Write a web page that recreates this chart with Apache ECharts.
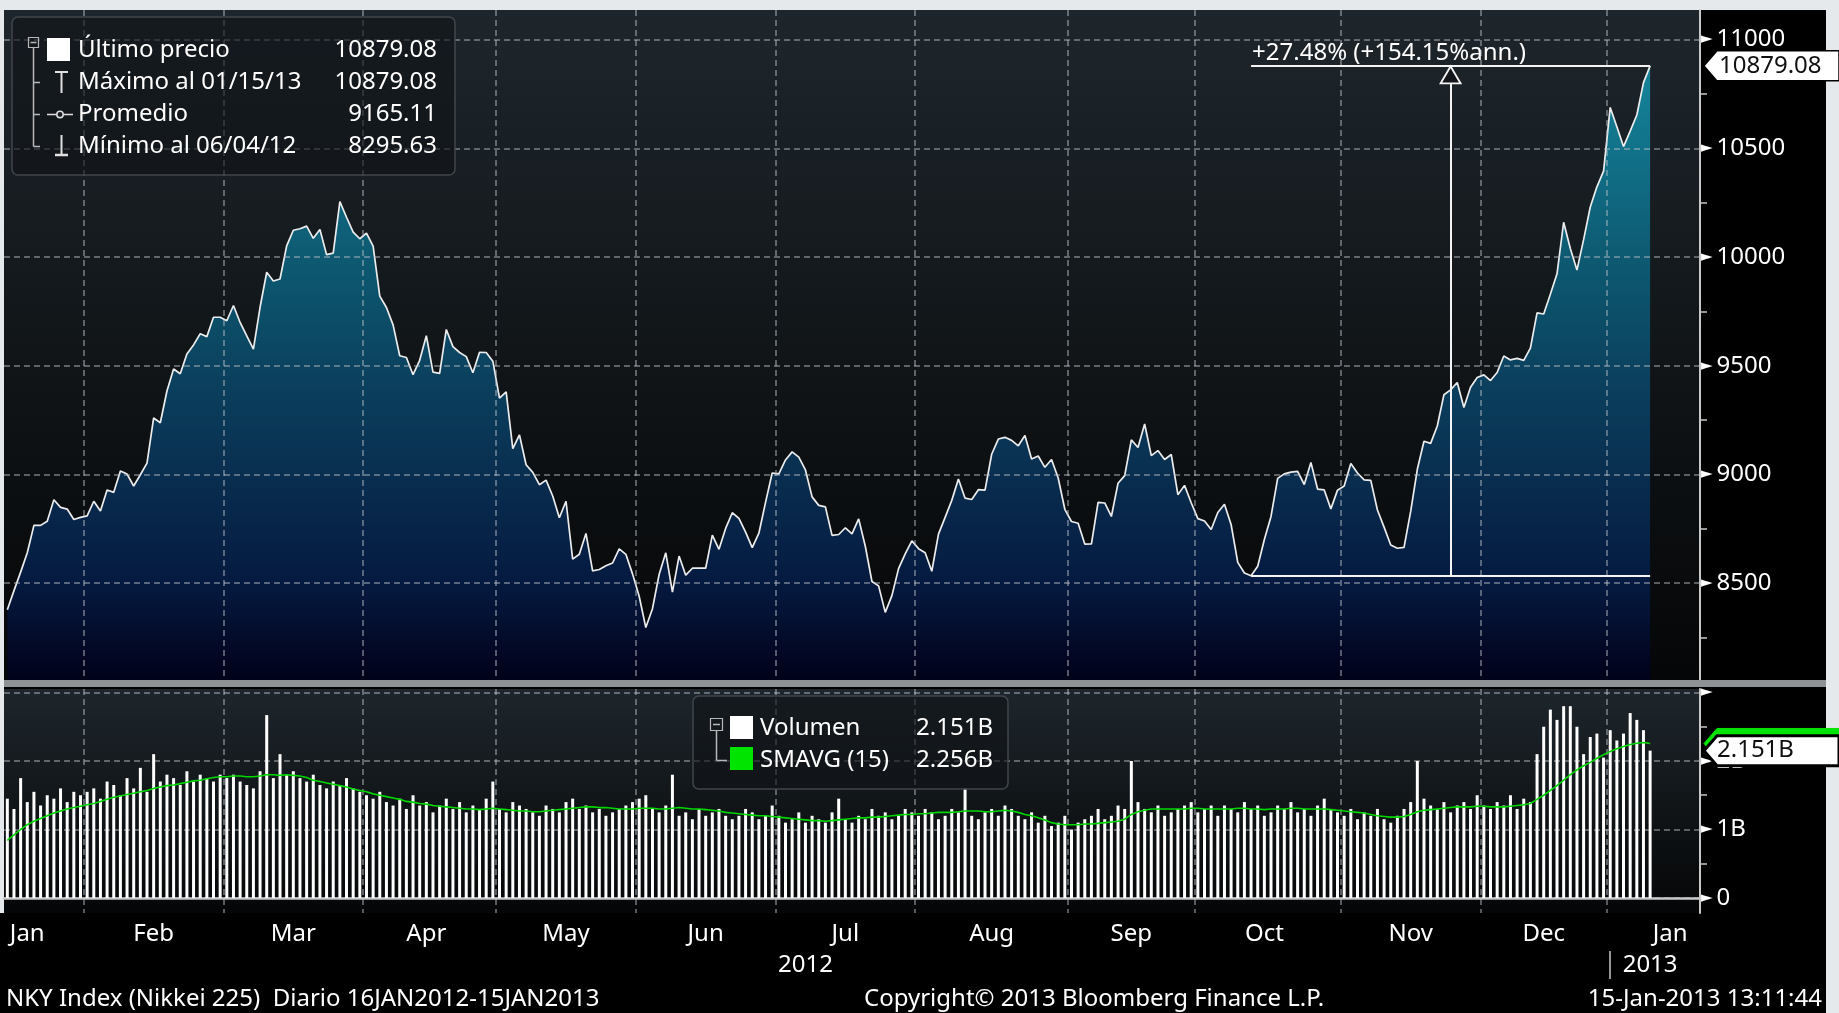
<!DOCTYPE html>
<html><head><meta charset="utf-8">
<script src="https://cdn.jsdelivr.net/npm/echarts@6/dist/echarts.min.js"></script>
<style>html,body{margin:0;padding:0;background:#000;overflow:hidden}#c{width:1839px;height:1013px}</style>
</head><body><div id="c"></div>
<script>
// ---------- DATA ----------
const startDate = '2012-01-16';
const endDate = '2013-01-24'; // axis runs 7 sessions past the last close
const holidays = ['2012-03-20','2012-04-30','2012-05-03','2012-05-04','2012-07-16','2012-09-17','2012-10-08',
  '2012-11-23','2012-12-24','2012-12-31','2013-01-01','2013-01-02','2013-01-03','2013-01-14'];
const monthNames = ['Jan','Feb','Mar','Apr','May','Jun','Jul','Aug','Sep','Oct','Nov','Dec'];

// Nikkei 225 daily close (trading-day order)
const closes = [
 8378,8466,8551,8640,8766,8766,8785,8884,8849,8841,8793,8803,
 8810,8877,8832,8929,8918,9016,9002,8947,8999,9052,9260,9238,9384,9485,9463,9554,9596,9647,9634,9723,9723,
 9707,9777,9699,9638,9576,9769,9930,9890,9899,10051,10123,10130,10142,10086,10127,10011,10018,10255,10183,10115,10084,
 10110,10050,9820,9768,9688,9546,9538,9459,9525,9638,9471,9465,9667,9588,9561,9542,9468,9562,9561,9521,
 9351,9380,9119,9182,9045,9010,8953,8974,8901,8801,8877,8611,8633,8729,8557,8563,8580,8593,8658,8633,8543,
 8440,8296,8383,8540,8640,8459,8625,8537,8569,8569,8569,8721,8656,8752,8824,8798,8735,8664,8730,8872,9007,
 9003,9067,9104,9080,9021,8897,8858,8851,8720,8724,8755,8727,8796,8670,8508,8488,8366,8443,8567,8635,8695,
 8659,8640,8555,8726,8803,8881,8979,8891,8885,8930,8928,9093,9163,9171,9157,9132,9179,9071,9085,9033,9069,8984,8840,
 8784,8776,8680,8681,8872,8869,8807,8960,8995,9159,9124,9232,9087,9110,9069,9092,8907,8950,8870,
 8797,8786,8747,8825,8863,8770,8596,8547,8534.12,8578,8701,8807,8982,9003,9011,9014,8954,9055,8933,8929,8842,8928,
 8947,9051,9007,8975,8973,8837,8758,8676,8661,8665,8830,9024,9153,9143,9223,9367,9389,9423,9308,9401,9446,
 9458,9432,9469,9545,9527,9534,9525,9581,9743,9738,9829,9923,10160,10039,9940,10080,10230,10323,10395,
 10688,10599,10508,10579,10653,10802,10879.08
];
// Volume, billions of shares
const volumesB = [
 1.45,1.3,1.75,1.4,1.55,1.35,1.5,1.45,1.6,1.4,1.55,1.5,
 1.55,1.6,1.45,1.7,1.65,1.5,1.75,1.6,1.9,1.55,2.1,1.7,1.8,1.75,1.65,1.85,1.7,1.8,1.75,1.7,1.8,
 1.75,1.8,1.7,1.65,1.6,1.85,2.67,1.75,2.1,1.8,1.85,1.75,1.7,1.8,1.65,1.6,1.7,1.65,1.75,1.6,1.55,
 1.5,1.45,1.55,1.4,1.35,1.45,1.3,1.5,1.35,1.4,1.25,1.35,1.45,1.3,1.4,1.25,1.35,1.3,1.45,1.7,
 1.3,1.25,1.4,1.35,1.3,1.25,1.2,1.35,1.3,1.25,1.4,1.45,1.3,1.35,1.25,1.3,1.2,1.25,1.3,1.35,1.4,
 1.45,1.5,1.3,1.25,1.35,1.8,1.2,1.25,1.15,1.3,1.2,1.25,1.3,1.2,1.15,1.2,1.3,1.25,1.15,1.2,1.35,
 1.2,1.1,1.15,1.25,1.1,1.2,1.15,1.1,1.25,1.45,1.15,1.1,1.2,1.15,1.3,1.2,1.25,1.15,1.2,1.3,1.25,
 1.2,1.3,1.25,1.15,1.2,1.3,1.25,1.6,1.2,1.15,1.25,1.3,1.2,1.35,1.3,1.2,1.15,1.25,1.1,1.2,1.05,1.1,1.2,
 1.0,1.1,1.15,1.2,1.3,1.15,1.2,1.35,1.3,2.0,1.4,1.3,1.25,1.35,1.2,1.25,1.3,1.35,1.4,
 1.25,1.3,1.35,1.2,1.35,1.3,1.25,1.4,1.3,1.35,1.2,1.25,1.35,1.3,1.4,1.25,1.3,1.2,1.35,1.45,1.3,1.25,
 1.2,1.3,1.15,1.25,1.2,1.3,1.15,1.1,1.2,1.3,1.4,2.0,1.45,1.35,1.3,1.4,1.25,1.35,1.4,1.3,1.5,
 1.35,1.3,1.4,1.35,1.5,1.3,1.45,1.4,2.1,2.5,2.75,2.6,2.8,2.8,2.5,2.1,2.35,2.4,2.05,
 2.45,2.3,2.4,2.7,2.6,2.45,2.151
];
// SMAVG(15) of volume, billions (as drawn)
const smavgB = [
 0.84,0.92,1.0,1.07,1.12,1.16,1.2,1.24,1.27,1.3,1.32,1.34,
 1.36,1.38,1.41,1.44,1.47,1.49,1.51,1.53,1.55,1.57,1.6,1.62,1.64,1.65,1.67,1.69,1.71,1.72,1.74,1.76,1.77,
 1.77,1.78,1.78,1.77,1.77,1.78,1.8,1.8,1.79,1.8,1.79,1.78,1.76,1.72,1.7,1.68,1.66,1.64,1.62,1.59,1.57,
 1.55,1.52,1.5,1.48,1.46,1.44,1.41,1.4,1.38,1.37,1.35,1.34,1.33,1.32,1.31,1.3,1.3,1.29,1.3,1.31,
 1.3,1.29,1.28,1.27,1.27,1.26,1.26,1.27,1.28,1.29,1.3,1.31,1.32,1.33,1.33,1.32,1.32,1.31,1.3,1.3,1.3,
 1.31,1.31,1.31,1.3,1.3,1.31,1.32,1.31,1.3,1.3,1.29,1.28,1.27,1.25,1.24,1.23,1.22,1.21,1.2,1.2,1.19,
 1.18,1.17,1.16,1.15,1.14,1.13,1.13,1.12,1.13,1.14,1.15,1.16,1.17,1.17,1.18,1.18,1.19,1.2,1.21,1.22,1.22,
 1.23,1.23,1.24,1.25,1.25,1.25,1.26,1.27,1.27,1.27,1.26,1.26,1.27,1.28,1.27,1.25,1.22,1.2,1.17,1.14,1.1,1.08,1.07,
 1.07,1.07,1.08,1.08,1.09,1.1,1.11,1.12,1.15,1.22,1.26,1.28,1.3,1.3,1.3,1.3,1.3,1.3,1.31,
 1.31,1.3,1.3,1.3,1.3,1.3,1.31,1.31,1.3,1.3,1.29,1.3,1.3,1.3,1.31,1.31,1.3,1.3,1.3,1.3,1.29,1.28,
 1.27,1.26,1.25,1.24,1.22,1.2,1.19,1.18,1.18,1.19,1.22,1.26,1.28,1.29,1.3,1.31,1.32,1.33,1.33,1.33,1.34,
 1.34,1.33,1.33,1.33,1.34,1.35,1.36,1.38,1.44,1.5,1.57,1.64,1.72,1.8,1.87,1.93,1.98,2.04,2.09,
 2.14,2.18,2.21,2.24,2.26,2.27,2.256
];
const lastPriceText = '10879.08';
const lastVolText = '2.151B';
const legendRows = [
  ['Último precio', '10879.08'],
  ['Máximo al 01/15/13', '10879.08'],
  ['Promedio', '9165.11'],
  ['Mínimo al 06/04/12', '8295.63']
];
const volLegendRows = [['Volumen', '2.151B'], ['SMAVG (15)', '2.256B']];
const lowIdx = 187, highIdx = 247, arrowIdx = 217;
const changeText = '+27.48% (+154.15%ann.)';
const footerLeft = 'NKY Index (Nikkei 225)  Diario 16JAN2012-15JAN2013';
const footerMid = 'Copyright\u00A9 2013 Bloomberg Finance L.P.';
const footerRight = '15-Jan-2013 13:11:44';

// ---------- CATEGORIES ----------
function buildDates() {
  const out = []; let t = Date.parse(startDate + 'T00:00:00Z'); const end = Date.parse(endDate + 'T00:00:00Z');
  while (t <= end) {
    const d = new Date(t); const dow = d.getUTCDay(); const s = d.toISOString().slice(0, 10);
    if (dow !== 0 && dow !== 6 && holidays.indexOf(s) < 0) out.push(s);
    t += 86400000;
  }
  return out;
}
const dates = buildDates();
const groups = [];
dates.forEach((d, i) => {
  const k = d.slice(0, 7);
  if (!groups.length || groups[groups.length - 1].key !== k) groups.push({ key: k, first: i, last: i });
  else groups[groups.length - 1].last = i;
});
const monthStart = new Set(groups.slice(1).map(g => g.first));
const monthLabelIdx = new Set(groups.map((g, gi) =>
  gi === 0 ? g.first + 3 : (gi === groups.length - 1 ? g.first + 9 : Math.floor((g.first + g.last) / 2))));
const yearFirst = dates.findIndex(d => d.slice(0, 4) === '2013');
const yearLabelIdx = new Set([Math.floor((yearFirst - 1) / 2), yearFirst + 6]);

// ---------- LAYOUT ----------
const FONT = '"Noto Sans", "DejaVu Sans", sans-serif';
const G0 = { left: 4, top: 10, width: 1696, height: 670 };
const G1 = { left: 4, top: 689, width: 1696, height: 224 };
const axisRight = G0.left + G0.width;
const dash = { color: 'rgba(190,197,204,0.6)', width: 1.5, type: [6, 4] };

const chart = echarts.init(document.getElementById('c'), null, { renderer: 'canvas' });

function bgRect(g, id) {
  return { type: 'rect', id, z: -10, shape: { x: g.left, y: g.top, width: g.width, height: g.height },
    style: { fill: new echarts.graphic.LinearGradient(0, 0, 0, 1, [
      { offset: 0, color: '#1e262c' }, { offset: 0.55, color: '#101417' }, { offset: 1, color: '#050607' }]) } };
}
function txt(id, x, y, s, align, fill, z) {
  return { type: 'text', id, x, y, z: z || 60,
    style: { text: s, fill: fill || '#ffffff', font: '24px ' + FONT, align: align || 'left', verticalAlign: 'middle' } };
}
const ln = (id, x1, y1, x2, y2, color, w) => ({ type: 'line', id, z: 60, shape: { x1, y1, x2, y2 },
  style: { stroke: color || '#b8b8b8', lineWidth: w || 1.5 } });

const rowsY = [50, 82, 114, 146];
const staticGraphics = [
  { type: 'rect', id: 'topStrip', z: -9, shape: { x: 0, y: 0, width: 1839, height: 10 }, style: { fill: '#e6e9ec' } },
  { type: 'rect', id: 'leftStrip', z: -9, shape: { x: 0, y: 0, width: 4, height: 913 }, style: { fill: '#e6e9ec' } },
  { type: 'rect', id: 'rightStrip', z: -9, shape: { x: 1826, y: 0, width: 13, height: 1013 }, style: { fill: '#e6e9ec' } },
  bgRect(G0, 'bg0'), bgRect(G1, 'bg1'),
  { type: 'rect', id: 'sep', z: 40, shape: { x: 4, y: 680, width: 1822, height: 7 }, style: { fill: '#8f9294' } },
  // price legend
  { type: 'rect', id: 'lgBox', z: 55, shape: { x: 12, y: 17, width: 443, height: 158, r: 6 },
    style: { fill: 'rgba(16,20,24,0.62)', stroke: '#40464c', lineWidth: 1.5 } },
  { type: 'rect', id: 'lgTree', z: 60, shape: { x: 28.5, y: 37.5, width: 10, height: 10 }, style: { fill: 'none', stroke: '#b8b8b8', lineWidth: 1.2 } },
  ln('lgTreeM', 30.5, 42.5, 36.5, 42.5), ln('lgTreeV', 33.5, 47.5, 33.5, 146.5),
  ln('lgB2', 33.5, 82.5, 40, 82.5), ln('lgB3', 33.5, 114.5, 40, 114.5), ln('lgB4', 33.5, 146.5, 40, 146.5),
  { type: 'rect', id: 'lgSq', z: 60, shape: { x: 47, y: 38, width: 23, height: 23 }, style: { fill: '#ffffff' } },
  ln('lgT1', 55, 72, 68, 72, '#e0e0e0', 2), ln('lgT2', 61.5, 72, 61.5, 93, '#e0e0e0', 2),
  ln('lgP1', 47, 114.5, 73, 114.5, '#e0e0e0', 1.5),
  { type: 'circle', id: 'lgPc', z: 61, shape: { cx: 60, cy: 114.5, r: 3.2 }, style: { fill: '#1a1e22', stroke: '#e0e0e0', lineWidth: 1.5 } },
  ln('lgM1', 61.5, 135, 61.5, 155, '#e0e0e0', 2), ln('lgM2', 55, 155, 68, 155, '#e0e0e0', 2.5),
  // volume legend
  { type: 'rect', id: 'vlBox', z: 55, shape: { x: 693, y: 696, width: 315, height: 93, r: 6 },
    style: { fill: 'rgba(16,20,24,0.62)', stroke: '#40464c', lineWidth: 1.5 } },
  { type: 'rect', id: 'vlTree', z: 60, shape: { x: 710.5, y: 718.5, width: 12, height: 12 }, style: { fill: 'none', stroke: '#b8b8b8', lineWidth: 1.2 } },
  ln('vlTreeM', 713, 724.5, 720, 724.5), ln('vlTreeV', 716.5, 730.5, 716.5, 760.5), ln('vlB2', 716.5, 760.5, 727, 760.5),
  { type: 'rect', id: 'vlSq1', z: 60, shape: { x: 730, y: 716, width: 23, height: 23 }, style: { fill: '#ffffff' } },
  { type: 'rect', id: 'vlSq2', z: 60, shape: { x: 730, y: 747, width: 23, height: 23 }, style: { fill: '#00e400' } },
  // footer
  txt('f1', 6, 999, footerLeft), txt('f2', 864, 999, footerMid), txt('f3', 1822, 999, footerRight, 'right')
];
legendRows.forEach((r, i) => {
  staticGraphics.push(txt('lgL' + i, 78, rowsY[i], r[0]), txt('lgV' + i, 437, rowsY[i], r[1], 'right'));
});
volLegendRows.forEach((r, i) => {
  const y = [728, 760][i];
  staticGraphics.push(txt('vlL' + i, 760, y, r[0]), txt('vlV' + i, 993, y, r[1], 'right'));
});

const yLabelRich = { t: { fontFamily: 'DejaVu Sans', fontSize: 15, color: '#ffffff', padding: [0, 4, 0, 0] },
  v: { fontFamily: FONT, fontSize: 24, color: '#ffffff' } };

const option = {
  backgroundColor: '#000000',
  animation: false,
  textStyle: { fontFamily: FONT },
  grid: [Object.assign({ containLabel: false }, G0), Object.assign({ containLabel: false }, G1)],
  xAxis: [
    { type: 'category', gridIndex: 0, data: dates, boundaryGap: true, z: 6,
      axisLine: { show: false }, axisTick: { show: false }, axisLabel: { show: false },
      splitLine: { show: true, interval: (i) => monthStart.has(i), lineStyle: dash } },
    { type: 'category', gridIndex: 1, data: dates, boundaryGap: true, position: 'bottom',
      axisLine: { show: true, lineStyle: { color: '#c8c8c8', width: 2.5 } }, axisTick: { show: false },
      axisLabel: { show: true, interval: (i) => monthLabelIdx.has(i), color: '#ffffff', fontSize: 24, margin: 9,
        fontFamily: FONT, formatter: (v) => monthNames[+v.slice(5, 7) - 1] },
      splitLine: { show: true, interval: (i) => monthStart.has(i), lineStyle: dash } },
    { type: 'category', gridIndex: 1, data: dates, boundaryGap: true, position: 'bottom', offset: 38,
      axisLine: { show: false },
      axisTick: { show: true, alignWithLabel: true, interval: (i) => i === yearFirst, length: 28, lineStyle: { color: '#c8c8c8', width: 1.5 } },
      axisLabel: { show: true, interval: (i) => yearLabelIdx.has(i), color: '#ffffff', fontSize: 24, margin: 2,
        fontFamily: FONT, formatter: (v) => v.slice(0, 4) },
      splitLine: { show: false } }
  ],
  yAxis: [
    { type: 'value', gridIndex: 0, position: 'right', min: 8055, max: 11136, minInterval: 500, maxInterval: 500, z: 6,
      axisLine: { show: true, lineStyle: { color: '#c8c8c8', width: 2 } },
      axisTick: { show: false },
      minorTick: { show: true, splitNumber: 2, length: 7, lineStyle: { color: '#c8c8c8', width: 1.5 } },
      axisLabel: { show: true, margin: 1, showMinLabel: false, showMaxLabel: false,
        formatter: (v) => '{t|►}{v|' + Math.round(v) + '}', rich: yLabelRich },
      splitLine: { show: true, showMinLine: false, showMaxLine: false, lineStyle: dash } },
    { type: 'value', gridIndex: 1, position: 'right', min: -0.219, max: 3.051, minInterval: 1, maxInterval: 1,
      axisLine: { show: true, lineStyle: { color: '#c8c8c8', width: 2 } },
      axisTick: { show: false },
      minorTick: { show: true, splitNumber: 2, length: 7, lineStyle: { color: '#c8c8c8', width: 1.5 } },
      axisLabel: { show: true, margin: 1, showMinLabel: false, showMaxLabel: false,
        formatter: (v) => { const r = Math.round(v); return '{t|►}{v|' + (r === 0 ? '0' : (r < 3 ? r + 'B' : '')) + '}'; },
        rich: yLabelRich },
      splitLine: { show: true, showMinLine: false, showMaxLine: false, lineStyle: dash } }
  ],
  series: [
    { name: 'Último precio', type: 'line', xAxisIndex: 0, yAxisIndex: 0, data: closes, symbol: 'none', z: 5,
      lineStyle: { color: '#ececec', width: 1.7 },
      areaStyle: { origin: 'start', opacity: 1, color: new echarts.graphic.LinearGradient(0, 0, 0, 1, [
        { offset: 0, color: '#16859b' }, { offset: 0.13, color: '#11738a' }, { offset: 0.31, color: '#0d5a72' },
        { offset: 0.49, color: '#0b4360' }, { offset: 0.665, color: '#092e50' }, { offset: 0.84, color: '#051a40' },
        { offset: 1, color: '#01011a' }]) },
      markLine: { silent: true, symbol: 'none', animation: false, z: 12,
        lineStyle: { color: '#f4f4f4', width: 2, type: 'solid' }, label: { show: false },
        data: [
          [{ coord: [lowIdx, closes[lowIdx]] }, { coord: [highIdx, closes[lowIdx]] }],
          [{ coord: [lowIdx, closes[highIdx]], label: { show: true, position: 'insideStartTop', formatter: changeText,
              color: '#ffffff', fontSize: 24, fontFamily: FONT, distance: 1 } }, { coord: [highIdx, closes[highIdx]] }],
          [{ coord: [arrowIdx, closes[lowIdx]] }, { coord: [arrowIdx, closes[highIdx]] }]
        ] },
      markPoint: { silent: true, animation: false, z: 13, symbol: 'triangle', symbolSize: [20, 17], symbolOffset: [0, 9],
        itemStyle: { color: '#12161a', borderColor: '#f4f4f4', borderWidth: 1.8 }, label: { show: false },
        data: [{ coord: [arrowIdx, closes[highIdx]] }] } },
    { name: 'Volumen', type: 'bar', xAxisIndex: 1, yAxisIndex: 1, data: volumesB, barWidth: 3, z: 3,
      itemStyle: { color: '#ffffff' } },
    { name: 'SMAVG (15)', type: 'line', xAxisIndex: 1, yAxisIndex: 1, data: smavgB, symbol: 'none', z: 4,
      lineStyle: { color: '#00d800', width: 1.6 } }
  ],
  graphic: { elements: staticGraphics }
};
chart.setOption(option);

// value tags on the right axis (positions from the library's scales)
const last = closes.length - 1;
const yP = chart.convertToPixel({ yAxisIndex: 0 }, closes[last]);
const yV = chart.convertToPixel({ yAxisIndex: 1 }, volumesB[last]);
const yS = chart.convertToPixel({ yAxisIndex: 1 }, smavgB[last]);
const tag = (id, y, fill, stroke, lw, z) => ({ type: 'polygon', id, z,
  shape: { points: [[axisRight + 4, y], [axisRight + 17, y - 15], [1839, y - 15], [1839, y + 15], [axisRight + 17, y + 15]] },
  style: { fill, stroke, lineWidth: lw } });
chart.setOption({ graphic: { elements: [
  tag('tagP', yP, '#ffffff', '#000000', 1.5, 70),
  txt('tagPt', axisRight + 19, yP, lastPriceText, 'left', '#101010', 71),
  tag('tagS', yS, '#00e400', '#00e400', 1, 68),
  tag('tagV', yV, '#ffffff', '#000000', 3, 70),
  txt('tagVt', axisRight + 17, yV, lastVolText, 'left', '#101010', 71)
] } });
</script></body></html>
